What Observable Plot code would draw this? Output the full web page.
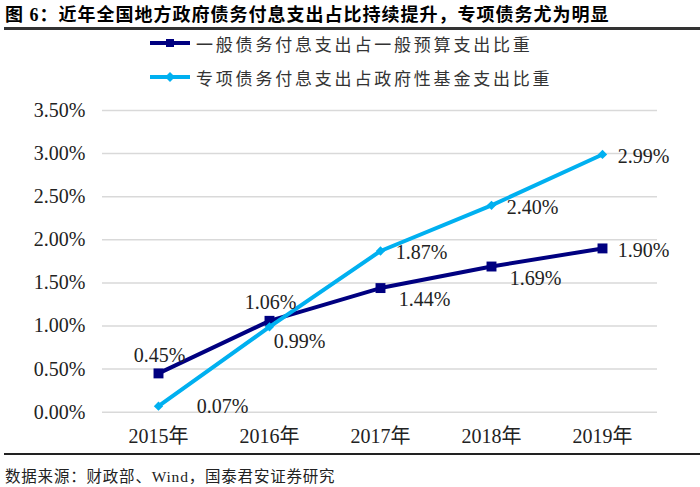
<!DOCTYPE html>
<html><head><meta charset="utf-8">
<script src="https://cdn.jsdelivr.net/npm/d3@7"></script>
<script src="https://cdn.jsdelivr.net/npm/@observablehq/plot@0.6"></script>
<style>
body{margin:0;background:#fff;}
#root{position:relative;width:700px;height:487px;overflow:hidden;font-family:'Liberation Serif','Noto Sans CJK SC',serif;}
.title{position:absolute;left:5px;top:4px;font-size:18px;font-weight:bold;line-height:22px;white-space:nowrap;color:#000;letter-spacing:1px;}
.rule{position:absolute;left:4px;right:0;background:#333;}
.leg{position:absolute;left:150px;height:22px;display:flex;align-items:center;font-size:17px;letter-spacing:2.8px;color:#333;white-space:nowrap;font-family:'Noto Sans CJK SC',sans-serif;}
.leg svg{margin-right:3px;}
.src{position:absolute;left:5px;top:467px;font-size:15.5px;line-height:20px;color:#222;white-space:nowrap;letter-spacing:0.8px;}
#chart{position:absolute;left:0;top:90px;}
</style></head>
<body>
<div id="root">
  <div class="title">图 6：近年全国地方政府债务付息支出占比持续提升，专项债务尤为明显</div>
  <div class="rule" style="top:27px;height:2.5px;"></div>
  <div class="leg" id="leg1" style="top:32px;"></div>
  <div class="leg" id="leg2" style="top:66px;"></div>
  <div id="chart"></div>
  <div class="rule" style="top:453px;height:2px;background:#222;"></div>
  <div class="src">数据来源：财政部、Wind，国泰君安证券研究</div>
</div>
<script>
const years = ["2015年","2016年","2017年","2018年","2019年"];
const generalShare = [0.45, 1.06, 1.44, 1.69, 1.90];
const specialShare = [0.07, 0.99, 1.87, 2.40, 2.99];
const yTicks = [0, 0.5, 1, 1.5, 2, 2.5, 3, 3.5];
const seriesNames = ["一般债务付息支出占一般预算支出比重", "专项债务付息支出占政府性基金支出比重"];
const seriesColors = ["#000080", "#00B0F0"];
const generalLabelPos = ["above", "above", "belowRight", "belowRight", "right"];
const specialLabelPos = ["farRight", "nearBelowRight", "right", "right", "right"];

const labelOffsets = {
  above: [1, -18],
  belowRight: [44, 12],
  right: [41, 2],
  farRight: [64, 0],
  nearBelowRight: [30, 15]
};

const generalRows = years.map((y, i) => ({year: y, value: generalShare[i], pos: generalLabelPos[i]}));
const specialRows = years.map((y, i) => ({year: y, value: specialShare[i], pos: specialLabelPos[i]}));

function labelMarks(rows) {
  const groups = d3.group(rows, d => d.pos);
  return Array.from(groups, ([pos, data]) => Plot.text(data, {
    x: "year", y: "value", text: d => d.value.toFixed(2) + "%",
    dx: labelOffsets[pos][0], dy: labelOffsets[pos][1],
    fill: "#222", fontSize: 20
  }));
}

const chart = Plot.plot({
  width: 700,
  height: 360,
  marginTop: 20,
  marginBottom: 38.3,
  marginLeft: 102,
  marginRight: 43,
  style: {fontFamily: "'Liberation Serif','Noto Sans CJK SC',serif", fontSize: "20px", background: "transparent", color: "#222"},
  x: {type: "point", domain: years, padding: 0.5, label: null},
  y: {domain: [0, 3.5], ticks: yTicks, label: null},
  marks: [
    Plot.gridY(yTicks, {stroke: "#d9d9d9", strokeOpacity: 1, strokeWidth: 1.5}),
    Plot.axisY(yTicks, {tickSize: 0, tickPadding: 17, tickFormat: d => d.toFixed(2) + "%", fontSize: 20, label: null}),
    Plot.axisX({tickSize: 0, tickPadding: 17, fontSize: 20, label: null}),
    Plot.line(generalRows, {x: "year", y: "value", stroke: seriesColors[0], strokeWidth: 4}),
    Plot.dot(generalRows, {x: "year", y: "value", symbol: "square", r: 5.6, fill: seriesColors[0], stroke: "none"}),
    Plot.line(specialRows, {x: "year", y: "value", stroke: seriesColors[1], strokeWidth: 4}),
    Plot.dot(specialRows, {x: "year", y: "value", symbol: "diamond2", r: 4.2, fill: seriesColors[1], stroke: "none"}),
    ...labelMarks(generalRows),
    ...labelMarks(specialRows)
  ]
});
document.getElementById("chart").appendChild(chart);

function legendItem(el, idx, symbolPath) {
  const c = seriesColors[idx];
  el.innerHTML = `<svg width="43" height="22" viewBox="0 0 43 22"><line x1="0" y1="11" x2="40" y2="11" stroke="${c}" stroke-width="4"/>${symbolPath(c)}</svg><span>${seriesNames[idx]}</span>`;
}
legendItem(document.getElementById("leg1"), 0, c => `<rect x="16" y="7" width="8" height="8" fill="${c}"/>`);
legendItem(document.getElementById("leg2"), 1, c => `<path d="M20 6 L25 11 L20 16 L15 11 Z" fill="${c}"/>`);
</script>
</body></html>
